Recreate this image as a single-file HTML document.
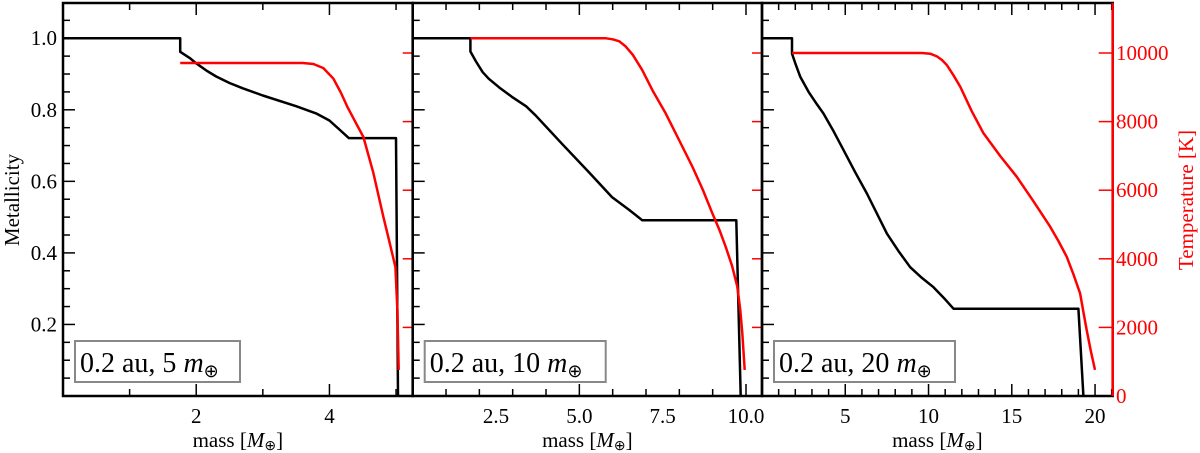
<!DOCTYPE html>
<html><head><meta charset="utf-8"><style>
body{margin:0;background:#fff}
svg{display:block;font-family:"Liberation Serif",serif}
</style></head><body>
<svg id="c" width="1200" height="453"></svg>
<script>
const panels=[{x0:63,x1:412.7,xmax:5.25,minor:1,major:[2,4],majorStep:2,fmt:v=>String(v),label:"5"},
{x0:412.7,x1:762,xmax:10.48,minor:1,major:[2.5,5,7.5,10],majorStep:2.5,fmt:v=>v.toFixed(1),label:"10"},
{x0:762,x1:1112.7,xmax:21.06,minor:1,major:[5,10,15,20],majorStep:5,fmt:v=>String(v),label:"20"}];
const metalTicks=[0.2,0.4,0.6,0.8,1.0];
const tempTicks=[0,2000,4000,6000,8000,10000];
const metalM1=[0,1.76,1.76,1.9,2.0,2.15,2.3,2.5,2.7,3.0,3.5,3.8,4.0,4.15,4.29,5.0,5.03];
const metalZ1=[1.0,1.0,0.962,0.945,0.93,0.91,0.893,0.875,0.86,0.84,0.81,0.79,0.77,0.745,0.721,0.721,0];
const tempM1=[1.76,3.6,3.76,3.91,4.06,4.17,4.27,4.4,4.51,4.66,4.81,4.9,4.99,5.02,5.04];
const tempT1=[9708,9708,9680,9560,9250,8850,8430,7950,7550,6500,5220,4500,3760,2500,760];
const metalM2=[0,1.73,1.73,1.9,2.1,2.28,2.6,2.98,3.4,3.68,4.48,5.28,5.98,6.5,6.89,9.71,9.84];
const metalZ2=[1.0,1.0,0.963,0.935,0.905,0.887,0.862,0.836,0.81,0.785,0.705,0.626,0.556,0.52,0.491,0.491,0];
const tempM2=[1.73,5.8,6.0,6.2,6.38,6.6,6.89,7.2,7.59,8.0,8.39,8.7,8.99,9.2,9.39,9.58,9.74,9.83,9.89,9.96];
const tempT2=[10430,10430,10400,10340,10200,9950,9500,8900,8240,7450,6690,6020,5330,4850,4350,3800,3190,2500,1830,760];
const metalM3=[0,1.8,1.8,2.0,2.3,2.8,3.3,3.7,4.3,4.9,5.6,6.3,7.5,8.2,8.9,9.6,10.3,11.0,11.5,19.0,19.3];
const metalZ3=[1.0,1.0,0.957,0.93,0.892,0.85,0.815,0.789,0.74,0.687,0.625,0.566,0.454,0.405,0.36,0.33,0.304,0.27,0.244,0.244,0];
const tempM3=[1.8,9.6,10.1,10.5,10.8,11.1,11.5,11.9,12.6,13.3,14.3,15.3,16.3,17.3,17.8,18.3,18.7,19.1,19.3,19.5,19.75,20.0];
const tempT3=[10000,10000,9980,9900,9800,9650,9350,9020,8300,7660,7000,6390,5680,4940,4520,4060,3550,2990,2450,1920,1300,760];
const series=[[metalM1,metalZ1,tempM1,tempT1],[metalM2,metalZ2,tempM2,tempT2],[metalM3,metalZ3,tempM3,tempT3]];
const TOP=3,BOT=396;
const yM=v=>BOT-(v/1.0985)*(BOT-TOP);
const yT=v=>BOT-(v/11458)*(BOT-TOP);
const svg=document.getElementById('c');const NS="http://www.w3.org/2000/svg";
function mk(t,a,p){const e=document.createElementNS(NS,t);for(const k in a)e.setAttribute(k,a[k]);(p||svg).appendChild(e);return e;}
function line(x1,y1,x2,y2,c,w,name){const e=mk('line',{x1,y1,x2,y2,stroke:c,'stroke-width':w});

return e;}
function text(x,y,s,opt,name){const e=mk('text',Object.assign({x,y},opt));e.textContent=s;

return e;}
panels.forEach((p,i)=>{
 const xs=v=>p.x0+v/p.xmax*(p.x1-p.x0);
 for(let v=0.05;v<1.1;v+=0.05){const maj=Math.abs(v*5-Math.round(v*5))<1e-6;
  line(p.x0,yM(v),p.x0+(maj?12:7),yM(v),'#000',1.5,'metal-tick');}
 tempTicks.forEach(t=>{if(t>0)line(p.x1-(i==2?14:10),yT(t),p.x1,yT(t),'#f00',1.5,'temp-tick');});
 for(let v=p.minor;v<p.xmax;v+=p.minor){const maj=Math.abs(v/p.majorStep-Math.round(v/p.majorStep))<1e-6;const L=maj?12:7;
  line(xs(v),BOT,xs(v),BOT-L,'#000',1.5,'x-tick');line(xs(v),TOP,xs(v),TOP+L,'#000',1.5,'x-tick-top');}
 p.major.forEach(v=>text(xs(v),423,p.fmt(v),{'font-size':21,'text-anchor':'middle'},'x-tick-label'));
 const s=series[i];
 const d1=s[0].map((m,j)=>(j?'L':'M')+xs(m).toFixed(1)+','+yM(s[1][j]).toFixed(1)).join('');
 const b=mk('path',{d:d1,fill:'none',stroke:'#000','stroke-width':2.5,'stroke-linejoin':'round'});
 
 
 const d2=s[2].map((m,j)=>(j?'L':'M')+xs(m).toFixed(1)+','+yT(s[3][j]).toFixed(1)).join('');
 const r=mk('path',{d:d2,fill:'none',stroke:'#f00','stroke-width':2.5,'stroke-linejoin':'round'});
 
 
 const bw=[165,181,181][i];
 const bx=p.x0+12;
 const box=mk('rect',{x:bx,y:341,width:bw,height:41,fill:'#fff',stroke:'#888','stroke-width':2});
 
 
 const t=text(bx+5,372,'0.2 au, '+p.label+' ',{'font-size':28},'panel-label');
 const ts=mk('tspan',{'font-style':'italic'},t);ts.textContent='m';
 const ts2=mk('tspan',{'font-size':18,dy:5},t);ts2.textContent='⊕';
 const ax=text((p.x0+p.x1)/2,447,'mass [',{'font-size':21,'text-anchor':'middle'},'x-axis-title');
 const ai=mk('tspan',{'font-style':'italic'},ax);ai.textContent='M';
 const as=mk('tspan',{'font-size':14,dy:3},ax);as.textContent='⊕';
 const ae=mk('tspan',{dy:-3},ax);ae.textContent=']';
 const fr=mk('rect',{x:p.x0,y:TOP,width:p.x1-p.x0,height:BOT-TOP,fill:'none',stroke:'#000','stroke-width':2.5});
 
 
});
line(1112.7,TOP,1112.7,BOT,'#f00',2.5,'temp-axis-spine');
metalTicks.forEach(v=>text(57,yM(v)+7,v.toFixed(1),{'font-size':21,'text-anchor':'end'},'metal-tick-label'));
tempTicks.forEach(t=>text(1116,yT(t)+7,String(t),{'font-size':21,fill:'#f00'},'temp-tick-label'));
text(19,200,'Metallicity',{'font-size':21,'text-anchor':'middle',transform:'rotate(-90 19 200)'},'y-axis-title');
text(1193,200,'Temperature [K]',{'font-size':21,'text-anchor':'middle',fill:'#f00',transform:'rotate(-90 1193 200)'},'y2-axis-title');
</script>
</body></html>
